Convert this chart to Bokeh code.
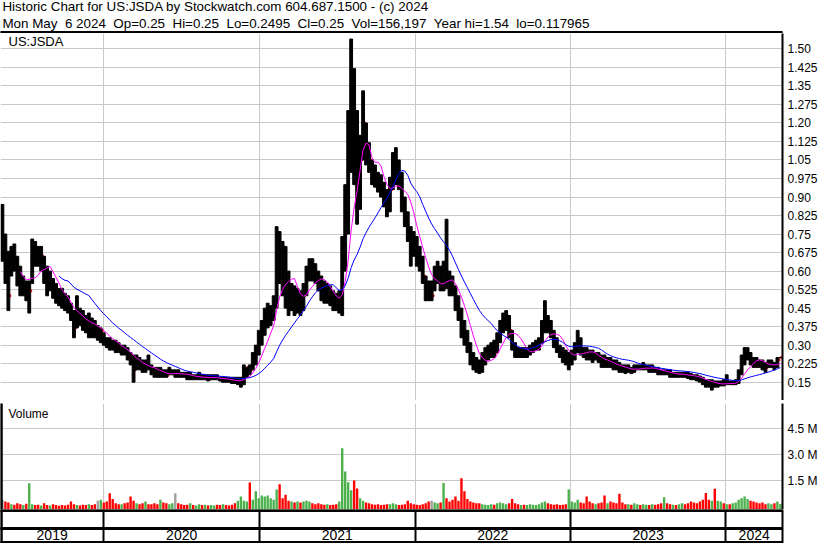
import pandas as pd
from bokeh.core.properties import value
from bokeh.embed import file_html
from bokeh.layouts import column
from bokeh.models import ColumnDataSource, FixedTicker, Grid, Label, Range1d
from bokeh.plotting import figure
from bokeh.resources import INLINE

# ---------------------------------------------------------------------------
# US:JSDA weekly bars, week of 2019-05-06 through week of 2024-05-06
# ---------------------------------------------------------------------------
first_week = "2019-05-06"

high = [
    0.87, 0.75, 0.68, 0.70, 0.71, 0.66, 0.62, 0.58, 0.56, 0.56,
    0.73, 0.72, 0.70, 0.70, 0.66, 0.62, 0.60, 0.57, 0.55, 0.53,
    0.53, 0.51, 0.50, 0.47, 0.44, 0.50, 0.45, 0.44, 0.42, 0.43,
    0.41, 0.40, 0.38, 0.37, 0.35, 0.33, 0.33, 0.32, 0.32, 0.31,
    0.30, 0.30, 0.29, 0.27, 0.26, 0.26, 0.25, 0.24, 0.24, 0.26,
    0.22, 0.21, 0.21, 0.21, 0.20, 0.20, 0.21, 0.20, 0.20, 0.20,
    0.19, 0.19, 0.19, 0.19, 0.18, 0.18, 0.19, 0.18, 0.18, 0.18,
    0.18, 0.18, 0.18, 0.17, 0.17, 0.17, 0.17, 0.17, 0.17, 0.17,
    0.17, 0.22, 0.21, 0.22, 0.27, 0.30, 0.36, 0.40, 0.45, 0.47,
    0.46, 0.50, 0.78, 0.76, 0.72, 0.70, 0.60, 0.55, 0.54, 0.53,
    0.52, 0.55, 0.62, 0.65, 0.65, 0.63, 0.60, 0.58, 0.56, 0.55,
    0.54, 0.52, 0.51, 0.52, 0.74, 0.95, 1.25, 1.54, 1.42, 1.25,
    1.15, 1.33, 1.20, 1.12, 1.05, 1.03, 1.00, 0.99, 0.96, 0.93,
    0.98, 1.08, 1.10, 1.05, 1.00, 0.90, 0.84, 0.78, 0.76, 0.74,
    0.70, 0.66, 0.58, 0.56, 0.56, 0.62, 0.64, 0.62, 0.64, 0.81,
    0.60, 0.58, 0.54, 0.50, 0.45, 0.40, 0.36, 0.31, 0.27, 0.25,
    0.24, 0.27, 0.29, 0.30, 0.31, 0.32, 0.35, 0.40, 0.43, 0.44,
    0.42, 0.36, 0.31, 0.29, 0.29, 0.29, 0.29, 0.30, 0.31, 0.32,
    0.33, 0.40, 0.48, 0.42, 0.40, 0.36, 0.33, 0.30, 0.29, 0.28,
    0.27, 0.28, 0.31, 0.36, 0.33, 0.29, 0.29, 0.28, 0.28, 0.27,
    0.27, 0.26, 0.26, 0.25, 0.25, 0.24, 0.24, 0.23, 0.22, 0.22,
    0.22, 0.21, 0.22, 0.22, 0.22, 0.23, 0.22, 0.22, 0.22, 0.21,
    0.21, 0.20, 0.20, 0.20, 0.20, 0.19, 0.19, 0.19, 0.19, 0.19,
    0.19, 0.185, 0.18, 0.18, 0.175, 0.17, 0.16, 0.16, 0.16, 0.155,
    0.155, 0.155, 0.16, 0.18, 0.155, 0.155, 0.16, 0.20, 0.26, 0.29,
    0.29, 0.27, 0.25, 0.25, 0.24, 0.24, 0.23, 0.24, 0.24, 0.23, 0.25, 0.25,
]

low = [
    0.64, 0.55, 0.44, 0.58, 0.60, 0.54, 0.50, 0.50, 0.48, 0.43,
    0.55, 0.62, 0.62, 0.60, 0.55, 0.50, 0.52, 0.49, 0.47, 0.46,
    0.45, 0.44, 0.43, 0.40, 0.33, 0.37, 0.38, 0.36, 0.35, 0.33,
    0.33, 0.33, 0.32, 0.31, 0.30, 0.29, 0.28, 0.28, 0.27, 0.27,
    0.26, 0.26, 0.24, 0.22, 0.15, 0.20, 0.20, 0.19, 0.19, 0.20,
    0.18, 0.17, 0.17, 0.17, 0.17, 0.17, 0.18, 0.18, 0.17, 0.17,
    0.17, 0.17, 0.16, 0.16, 0.16, 0.16, 0.16, 0.16, 0.16, 0.155,
    0.16, 0.16, 0.16, 0.155, 0.15, 0.15, 0.15, 0.145, 0.145, 0.14,
    0.13, 0.14, 0.17, 0.18, 0.20, 0.22, 0.26, 0.30, 0.34, 0.37,
    0.38, 0.40, 0.45, 0.55, 0.50, 0.45, 0.42, 0.44, 0.42, 0.43,
    0.42, 0.44, 0.50, 0.56, 0.56, 0.55, 0.52, 0.48, 0.47, 0.47,
    0.46, 0.44, 0.44, 0.43, 0.42, 0.60, 0.75, 1.00, 0.95, 0.79,
    0.85, 1.05, 1.03, 1.00, 0.95, 0.94, 0.92, 0.90, 0.86, 0.82,
    0.84, 0.93, 0.95, 0.93, 0.84, 0.78, 0.72, 0.62, 0.66, 0.62,
    0.60, 0.55, 0.48, 0.48, 0.48, 0.52, 0.55, 0.52, 0.52, 0.53,
    0.50, 0.50, 0.44, 0.40, 0.33, 0.30, 0.27, 0.22, 0.20, 0.19,
    0.185, 0.19, 0.22, 0.24, 0.25, 0.25, 0.27, 0.31, 0.35, 0.36,
    0.33, 0.28, 0.25, 0.25, 0.25, 0.25, 0.25, 0.26, 0.27, 0.28,
    0.28, 0.31, 0.35, 0.35, 0.33, 0.29, 0.27, 0.25, 0.23, 0.22,
    0.20, 0.22, 0.24, 0.27, 0.26, 0.25, 0.24, 0.24, 0.23, 0.24,
    0.23, 0.21, 0.21, 0.21, 0.21, 0.20, 0.20, 0.19, 0.19, 0.185,
    0.19, 0.185, 0.19, 0.20, 0.20, 0.20, 0.20, 0.19, 0.19, 0.19,
    0.18, 0.18, 0.18, 0.18, 0.17, 0.17, 0.17, 0.17, 0.17, 0.17,
    0.165, 0.16, 0.16, 0.155, 0.15, 0.14, 0.13, 0.13, 0.118, 0.13,
    0.13, 0.135, 0.135, 0.14, 0.14, 0.14, 0.14, 0.145, 0.18, 0.22,
    0.24, 0.22, 0.21, 0.21, 0.21, 0.20, 0.19, 0.21, 0.21, 0.20, 0.21, 0.2495,
]

close = [
    0.68, 0.60, 0.50, 0.66, 0.64, 0.58, 0.53, 0.54, 0.50, 0.52,
    0.68, 0.66, 0.65, 0.66, 0.57, 0.55, 0.56, 0.53, 0.50, 0.49,
    0.47, 0.46, 0.45, 0.42, 0.37, 0.42, 0.41, 0.40, 0.37, 0.40,
    0.36, 0.35, 0.35, 0.36, 0.32, 0.31, 0.30, 0.295, 0.29, 0.28,
    0.285, 0.27, 0.25, 0.23, 0.20, 0.23, 0.22, 0.21, 0.22, 0.21,
    0.19, 0.185, 0.18, 0.19, 0.18, 0.178, 0.188, 0.19, 0.19, 0.182,
    0.18, 0.175, 0.17, 0.172, 0.168, 0.17, 0.173, 0.168, 0.17, 0.162,
    0.168, 0.17, 0.165, 0.16, 0.162, 0.158, 0.155, 0.153, 0.15, 0.155,
    0.16, 0.19, 0.21, 0.20, 0.25, 0.27, 0.32, 0.36, 0.40, 0.41,
    0.43, 0.46, 0.72, 0.68, 0.58, 0.55, 0.48, 0.50, 0.48, 0.49,
    0.47, 0.52, 0.58, 0.62, 0.60, 0.59, 0.55, 0.52, 0.50, 0.51,
    0.49, 0.47, 0.46, 0.48, 0.62, 0.88, 1.10, 1.35, 1.10, 0.95,
    1.05, 1.20, 1.08, 1.05, 0.98, 0.97, 0.96, 0.94, 0.90, 0.86,
    0.93, 1.00, 1.02, 0.96, 0.88, 0.82, 0.76, 0.72, 0.70, 0.66,
    0.64, 0.58, 0.52, 0.50, 0.50, 0.58, 0.60, 0.56, 0.58, 0.57,
    0.54, 0.52, 0.47, 0.43, 0.36, 0.33, 0.30, 0.25, 0.22, 0.21,
    0.20, 0.24, 0.25, 0.27, 0.28, 0.27, 0.32, 0.37, 0.40, 0.41,
    0.36, 0.30, 0.27, 0.268, 0.272, 0.26, 0.27, 0.28, 0.29, 0.30,
    0.31, 0.37, 0.40, 0.38, 0.35, 0.31, 0.29, 0.27, 0.26, 0.23,
    0.24, 0.25, 0.28, 0.31, 0.28, 0.27, 0.26, 0.258, 0.25, 0.252,
    0.24, 0.23, 0.22, 0.23, 0.22, 0.218, 0.21, 0.205, 0.20, 0.198,
    0.202, 0.195, 0.21, 0.212, 0.208, 0.21, 0.212, 0.20, 0.203, 0.198,
    0.19, 0.185, 0.19, 0.188, 0.18, 0.182, 0.178, 0.18, 0.183, 0.178,
    0.175, 0.17, 0.168, 0.165, 0.16, 0.15, 0.145, 0.14, 0.145, 0.14,
    0.142, 0.145, 0.143, 0.15, 0.145, 0.147, 0.15, 0.19, 0.24, 0.26,
    0.265, 0.24, 0.23, 0.228, 0.22, 0.218, 0.21, 0.22, 0.223, 0.219, 0.24, 0.25,
]

# thousands of shares
volume_k = [
    400, 300, 250, 150, 120, 200, 150, 100, 180, 1360,
    150, 100, 120, 80, 200, 100, 80, 150, 100, 60,
    100, 80, 120, 300, 150, 100, 80, 120, 100, 150,
    100, 150, 350, 400, 250, 300, 780, 450, 200, 150,
    150, 200, 250, 600, 350, 200, 150, 200, 300, 150,
    150, 200, 150, 400, 250, 200, 150, 200, 780, 200,
    150, 100, 120, 200, 100, 80, 150, 100, 120, 80,
    100, 80, 120, 100, 150, 100, 80, 120, 200, 350,
    600, 350, 300, 1400, 400, 900, 500, 650, 600, 650,
    500, 400, 1000, 1300, 500, 700, 350, 300, 250, 300,
    250, 300, 350, 300, 200, 150, 200, 150, 120, 150,
    100, 120, 150, 300, 3380, 2040, 1420, 950, 1520, 1060,
    500, 350, 250, 200, 150, 120, 150, 100, 120, 150,
    150, 200, 150, 100, 120, 150, 350, 200, 150, 120,
    100, 150, 200, 300, 350, 250, 200, 250, 1380, 500,
    300, 400, 600, 350, 1650, 900, 450, 300, 250, 200,
    200, 150, 120, 100, 150, 120, 200, 250, 200, 150,
    200, 450, 200, 150, 100, 120, 100, 150, 120, 100,
    150, 250, 300, 200, 150, 120, 150, 100, 120, 150,
    1000, 300, 250, 400, 250, 200, 600, 300, 200, 150,
    200, 250, 650, 200, 300, 250, 200, 750, 250, 150,
    150, 120, 200, 150, 100, 150, 120, 100, 150, 120,
    150, 200, 550, 200, 150, 120, 100, 150, 200, 150,
    200, 300, 250, 200, 300, 400, 800, 400, 350, 1040,
    350, 300, 200, 150, 150, 200, 250, 400, 500, 600,
    450, 350, 300, 250, 200, 250, 150, 200, 150, 200, 300, 156.197,
]

price_tick_labels = ["0.15", "0.225", "0.30", "0.375", "0.45", "0.525", "0.60",
                     "0.675", "0.75", "0.825", "0.90", "0.975", "1.05", "1.125",
                     "1.20", "1.275", "1.35", "1.425", "1.50"]
volume_ticks = [1500000, 3000000, 4500000]
volume_tick_labels = ["1.5 M", "3.0 M", "4.5 M"]
year_labels = ["2019", "2020", "2021", "2022", "2023", "2024"]

NB = "\u00a0"  # keeps the double gaps of the quote line
title_line1 = "Historic Chart for US:JSDA by Stockwatch.com 604.687.1500 - (c) 2024"
title_line2 = NB.join(["Mon May ", "6 2024 ", "Op=0.25 ", "Hi=0.25 ", "Lo=0.2495 ",
                       "Cl=0.25 ", "Vol=156,197 ", "Year hi=1.54 ", "lo=0.117965"])

# ---------------------------------------------------------------------------
FONT = "Liberation Sans"
W = 830
RIGHT = 48            # width of the label column right of the plot frames
GRID = "#c8c8c8"
GREEN, RED, GREY = "#4cb04c", "#ff0000", "#a0a0a0"
DAY = pd.Timedelta(days=1)

weeks = pd.date_range(first_week, periods=len(close), freq="7D")
bar_x = weeks + 2 * DAY

ma_short = pd.Series(close).rolling(7).mean()
ma_long = pd.Series(close).rolling(20).mean()

vol_color = []
for i, c in enumerate(close):
    if i == 0 or c == close[i - 1]:
        vol_color.append(GREY)
    elif c > close[i - 1]:
        vol_color.append(GREEN)
    else:
        vol_color.append(RED)

src = ColumnDataSource(dict(
    x=bar_x, tick_x=bar_x + 3.3 * DAY,
    high=high, low=low, close=close,
    ma_short=ma_short, ma_long=ma_long,
    vol=[v * 1000 for v in volume_k], vol_color=vol_color,
))

x_start = pd.Timestamp("2019-05-03 12:00")
x_end = pd.Timestamp("2024-05-13")
xr = Range1d(start=x_start, end=x_end)
year_starts = [pd.Timestamp(f"{y}-01-01") for y in range(2020, 2025)]
year_ms = [t.value // 10**6 for t in year_starts]


def base_fig(height, y_range, x_range=xr, right_axis=True):
    f = figure(width=W, height=height, x_range=x_range, y_range=y_range,
               x_axis_type="datetime" if x_range is xr else "linear",
               x_axis_location=None,
               y_axis_location="right" if right_axis else None,
               toolbar_location=None, output_backend="svg",
               min_border_left=0, min_border_right=RIGHT if right_axis else 0,
               min_border_top=0, min_border_bottom=0,
               outline_line_color=None, background_fill_color="white",
               border_fill_color="white")
    f.xgrid.grid_line_color = None
    if not right_axis:
        f.ygrid.grid_line_color = None
    return f


def style_right_axis(f, ticks, labels):
    ax = f.yaxis[0]
    ax.ticker = FixedTicker(ticks=ticks)
    ax.major_label_overrides = dict(zip(ticks, labels))
    ax.axis_line_color = "black"
    ax.axis_line_width = 2
    ax.major_tick_line_color = None
    ax.minor_tick_line_color = None
    ax.major_tick_out = 0
    ax.major_tick_in = 0
    ax.major_label_standoff = 5
    ax.major_label_text_font = FONT
    ax.major_label_text_font_size = "12px"
    ax.major_label_text_color = "black"


def year_grid(f, color=GRID, width=1):
    f.add_layout(Grid(dimension=0, ticker=FixedTicker(ticks=year_ms),
                      grid_line_color=color, grid_line_width=width))


def left_edge(f, top, bottom):
    # black rule down the left side of a panel
    f.quad(left=x_start, right=x_start + 4 * DAY, top=top, bottom=bottom, color="black")


# --- header ---------------------------------------------------------------
header = base_fig(33, Range1d(33, 0), x_range=Range1d(0, W), right_axis=False)
header.quad(left=0, right=W, top=31, bottom=33, color="black")
for txt, mid in ((title_line1, 5.8), (title_line2, 23.3)):
    header.add_layout(Label(x=2, y=mid, text=txt, text_font=FONT,
                            text_font_size="13.4px", text_color="black",
                            text_baseline="middle"))

# --- price panel ----------------------------------------------------------
price_ticks = [float(s) for s in price_tick_labels]
price_lo, price_hi = 0.0759, 1.5623
price = base_fig(367, Range1d(price_lo, price_hi))
style_right_axis(price, price_ticks, price_tick_labels)
price.ygrid.grid_line_color = GRID
year_grid(price)
price.rect(x="tick_x", y="close", width=2, height=2, width_units="screen",
           height_units="screen", color="red", source=src)
price.vbar(x="x", width=6.6 * DAY, top="high", bottom="low", color="black", source=src)
price.line(x="x", y="ma_short", color="#ff00ff", line_width=1, source=src)
price.line(x="x", y="ma_long", color="#0000ff", line_width=1, source=src)
price.add_layout(Label(x=8, y=358.8, x_units="screen", y_units="screen", text="US:JSDA",
                       text_font=FONT, text_font_size="13px", text_color="black",
                       text_baseline="middle"))

# --- double rule between the panels --------------------------------------
sep = base_fig(3, Range1d(3, 0), x_range=Range1d(0, W), right_axis=False)
sep.quad(left=[0, 0, W - RIGHT - 1, 0], right=[W, W, W - RIGHT + 1, 2],
         top=[0, 2, 0, 0], bottom=[1, 3, 3, 3], color="black")

# --- volume panel ---------------------------------------------------------
vol_lo, vol_hi = -156000, 5960000
volume = base_fig(106, Range1d(vol_lo, vol_hi))
style_right_axis(volume, volume_ticks, volume_tick_labels)
volume.ygrid.grid_line_color = GRID
year_grid(volume)
volume.vbar(x="x", width=5.6 * DAY, top="vol", bottom=vol_lo,
            fill_color="vol_color", line_color=None, source=src)
left_edge(volume, vol_hi, vol_lo)
volume.add_layout(Label(x=8, y=95.5, x_units="screen", y_units="screen", text="Volume",
                        text_font=FONT, text_font_size="12px", text_color="black",
                        text_baseline="middle"))

# --- year band ------------------------------------------------------------
band = base_fig(34, Range1d(34, 0))
style_right_axis(band, [], [])
band.ygrid.grid_line_color = None
year_grid(band, color="black", width=2)
band.quad(left=x_start, right=x_end, top=[0, 18, 32], bottom=[2, 20, 34], color="black")
left_edge(band, 0, 34)
edges = [x_start] + year_starts + [x_end]
mids = [a + (b - a) / 2 for a, b in zip(edges[:-1], edges[1:])]
band.text(x=mids, y=[25.3] * len(mids), text=year_labels, text_align="center",
          text_baseline="middle", text_font=value(FONT), text_font_size="14px",
          text_color="black")

layout = column(header, price, sep, volume, band, spacing=0)
open("out.html", "w").write(file_html(layout, INLINE))
